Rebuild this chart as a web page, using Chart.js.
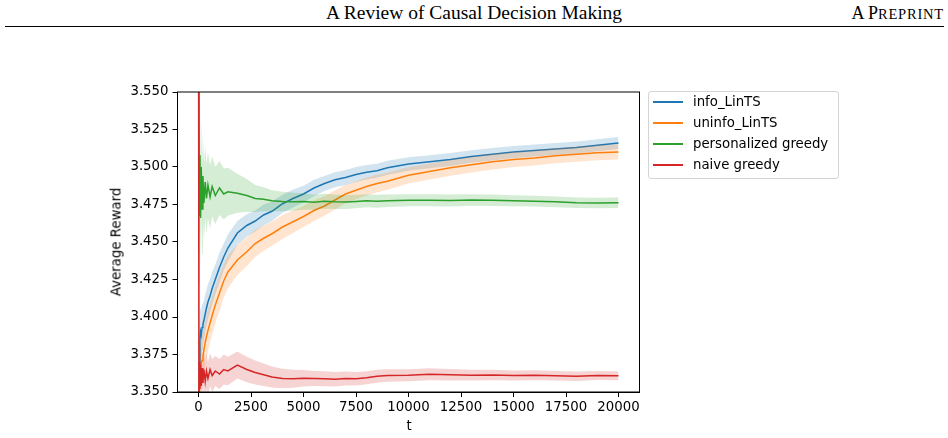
<!DOCTYPE html>
<html lang="en">
<head>
<meta charset="UTF-8">
<title>Average Reward</title>
<script src="https://cdn.jsdelivr.net/npm/chart.js"></script>
<style>
    body { margin: 0; width: 948px; height: 438px; position: relative; background: #fff; overflow: hidden; font-family: "DejaVu Sans", sans-serif; color: #000; }
    #grafico { position: absolute; left: 0; top: 0; }
    .titulo { position: absolute; left: 0; width: 948px; top: 3px; text-align: center; font-family: "Liberation Serif", serif; font-size: 19.5px; line-height: 20px; }
    .preprint { position: absolute; right: 4px; top: 3px; font-family: "Liberation Serif", serif; font-size: 18px; line-height: 20px; white-space: nowrap; }
    .preprint small { font-size: 14.5px; letter-spacing: 0.8px; }
    .linha { position: absolute; left: 5px; width: 939px; top: 26px; height: 1px; background: #000; }
    .legenda { position: absolute; left: 648px; top: 91px; width: 189px; height: 86px; border: 1px solid #d4d4d4; border-radius: 3px; background: rgba(255,255,255,0.8); }
    .item { position: absolute; left: 0; height: 20px; line-height: 20px; font-size: 13.3px; white-space: nowrap; }
    .item i { position: absolute; left: 4px; top: 9px; width: 30px; height: 2px; }
    .item span { position: absolute; left: 44px; top: 0; }
    .eixo-y { position: absolute; left: 116px; top: 242px; transform: translate(-50%, -50%) rotate(-90deg); font-size: 13.3px; white-space: nowrap; }
    .eixo-x { position: absolute; left: 409px; top: 425px; transform: translate(-50%, -50%); font-size: 13.3px; }
</style>
</head>
<body>
    <div class="titulo">A Review of Causal Decision Making</div>
    <div class="preprint">A P<small>REPRINT</small></div>
    <div class="linha"></div>

    <canvas id="grafico" width="948" height="438"></canvas>

    <div class="legenda">
        <div class="item" style="top:0px"><i style="background:#1f77b4"></i><span>info_LinTS</span></div>
        <div class="item" style="top:21px"><i style="background:#ff7f0e"></i><span>uninfo_LinTS</span></div>
        <div class="item" style="top:42px"><i style="background:#2ca02c"></i><span>personalized greedy</span></div>
        <div class="item" style="top:63px"><i style="background:#d62728"></i><span>naive greedy</span></div>
    </div>

    <div class="eixo-y">Average Reward</div>
    <div class="eixo-x">t</div>

<script>
    // passos de tempo
    const t = [0, 20, 40, 70, 100, 130, 170, 210, 260, 320, 380, 450, 550, 650, 800, 1000, 1200, 1400, 1850, 2300,
        2700, 3100, 3500, 4000, 4500, 5000, 5500, 6000, 6500, 7000, 7500, 8000, 8500, 9000, 10000, 11000, 12000, 13000,
        14000, 15000, 16000, 17000, 18000, 19000, 20000];

    const infoMedia = [3.30, 3.34, 3.37, 3.385, 3.39, 3.388, 3.393, 3.395, 3.398, 3.402, 3.406, 3.410, 3.414, 3.419, 3.425,
        3.433, 3.440, 3.446, 3.456, 3.461, 3.464, 3.468, 3.4705, 3.4755, 3.479, 3.482, 3.486, 3.489, 3.4915, 3.493, 3.495,
        3.4965, 3.4975, 3.4995, 3.502, 3.5035, 3.505, 3.507, 3.5085, 3.510, 3.511, 3.512, 3.513, 3.5145, 3.516];
    const infoDesvio = [0.03, 0.025, 0.02, 0.018, 0.017, 0.016, 0.015, 0.014, 0.013, 0.013, 0.012, 0.012, 0.011, 0.011, 0.010,
        0.010, 0.009, 0.009, 0.008, 0.0075, 0.007, 0.007, 0.0065, 0.006, 0.006, 0.0055, 0.0055, 0.005, 0.005, 0.005, 0.005,
        0.0048, 0.0047, 0.0046, 0.0045, 0.0044, 0.0043, 0.0042, 0.0041, 0.004, 0.004, 0.004, 0.004, 0.004, 0.004];

    const uninfoMedia = [3.30, 3.345, 3.362, 3.365, 3.366, 3.369, 3.371, 3.374, 3.378, 3.383, 3.387, 3.391, 3.396, 3.401, 3.408,
        3.416, 3.424, 3.430, 3.438, 3.4435, 3.449, 3.4525, 3.4555, 3.460, 3.4635, 3.467, 3.471, 3.474, 3.478, 3.482, 3.4845,
        3.487, 3.489, 3.4905, 3.4945, 3.497, 3.4995, 3.5015, 3.5035, 3.505, 3.506, 3.5075, 3.5085, 3.5095, 3.510];
    const uninfoDesvio = [0.03, 0.025, 0.022, 0.02, 0.019, 0.018, 0.017, 0.016, 0.015, 0.015, 0.014, 0.014, 0.013, 0.013, 0.012,
        0.012, 0.011, 0.011, 0.010, 0.0095, 0.009, 0.0085, 0.008, 0.008, 0.0075, 0.007, 0.007, 0.0065, 0.0065, 0.006, 0.006,
        0.006, 0.0058, 0.0056, 0.0055, 0.0054, 0.0053, 0.0052, 0.0051, 0.005, 0.005, 0.005, 0.005, 0.005, 0.005];

    const persMedia = [3.60, 3.53, 3.468, 3.508, 3.466, 3.50, 3.472, 3.494, 3.476, 3.490, 3.479, 3.488, 3.480, 3.487, 3.481,
        3.486, 3.482, 3.4835, 3.4825, 3.481, 3.479, 3.4785, 3.4775, 3.477, 3.4768, 3.477, 3.4765, 3.4772, 3.4768, 3.4766, 3.477,
        3.4775, 3.4772, 3.4775, 3.4778, 3.4778, 3.4776, 3.478, 3.4778, 3.4775, 3.4772, 3.4768, 3.4762, 3.476, 3.4762];
    const persDesvio = [0.08, 0.06, 0.045, 0.04, 0.035, 0.032, 0.03, 0.028, 0.026, 0.024, 0.023, 0.022, 0.021, 0.02, 0.019,
        0.018, 0.017, 0.016, 0.013, 0.011, 0.009, 0.008, 0.007, 0.0065, 0.006, 0.0055, 0.005, 0.005, 0.0048, 0.0046, 0.0045,
        0.0044, 0.0043, 0.0042, 0.004, 0.004, 0.004, 0.0039, 0.0038, 0.0037, 0.0036, 0.0036, 0.0035, 0.0035, 0.0035];

    const naiveMedia = [3.65, 3.345, 3.37, 3.352, 3.368, 3.354, 3.366, 3.356, 3.365, 3.357, 3.364, 3.359, 3.365, 3.361, 3.364,
        3.362, 3.365, 3.364, 3.368, 3.365, 3.363, 3.3615, 3.360, 3.359, 3.3588, 3.3592, 3.359, 3.3588, 3.3585, 3.359, 3.3588,
        3.3595, 3.3605, 3.361, 3.3612, 3.3618, 3.3615, 3.3612, 3.3614, 3.361, 3.3612, 3.3608, 3.3605, 3.361, 3.3608];
    const naiveDesvio = [0.02, 0.018, 0.016, 0.015, 0.014, 0.014, 0.013, 0.013, 0.012, 0.012, 0.012, 0.011, 0.011, 0.011, 0.010,
        0.010, 0.010, 0.0095, 0.009, 0.0085, 0.008, 0.0075, 0.007, 0.0065, 0.006, 0.0055, 0.005, 0.005, 0.0048, 0.0046, 0.0045,
        0.0044, 0.0043, 0.0042, 0.004, 0.004, 0.0038, 0.0036, 0.0035, 0.0034, 0.0033, 0.0032, 0.0031, 0.003, 0.003];

    const ticksX = [0, 2500, 5000, 7500, 10000, 12500, 15000, 17500, 20000];
    const ticksY = [3.350, 3.375, 3.400, 3.425, 3.450, 3.475, 3.500, 3.525, 3.550];

    const fonteTick = { family: 'DejaVu Sans', size: 13.3 };

    // faixa (sup + inf com fill) e a linha de cada serie
    function serie(nome, media, desvio, cor, corFaixa, ordem) {
        return [
            { label: nome + ' sup', data: t.map((x, i) => ({ x: x, y: media[i] + desvio[i] })),
              borderWidth: 0, pointRadius: 0, fill: false, order: ordem + 2 },
            { label: nome + ' inf', data: t.map((x, i) => ({ x: x, y: media[i] - desvio[i] })),
              borderWidth: 0, pointRadius: 0, fill: '-1', backgroundColor: corFaixa, order: ordem + 1 },
            { label: nome, data: t.map((x, i) => ({ x: x, y: media[i] })),
              borderColor: cor, borderWidth: 1.5, pointRadius: 0, fill: false, order: ordem }
        ];
    }

    const moldura = {
        id: 'moldura',
        afterDatasetsDraw(chart) {
            const a = chart.chartArea;
            const c = chart.ctx;
            c.save();
            c.strokeStyle = '#000';
            c.lineWidth = 1;
            c.strokeRect(a.left, a.top, a.right - a.left, a.bottom - a.top);
            c.restore();
        }
    };

    new Chart(document.getElementById('grafico'), {
        type: 'line',
        data: {
            datasets: [
                ...serie('info_LinTS', infoMedia, infoDesvio, '#1f77b4', 'rgba(31,119,180,0.2)', 10),
                ...serie('uninfo_LinTS', uninfoMedia, uninfoDesvio, '#ff7f0e', 'rgba(255,127,14,0.2)', 7),
                ...serie('personalized greedy', persMedia, persDesvio, '#2ca02c', 'rgba(44,160,44,0.2)', 4),
                ...serie('naive greedy', naiveMedia, naiveDesvio, '#d62728', 'rgba(214,39,40,0.2)', 1)
            ]
        },
        options: {
            responsive: false,
            animation: false,
            layout: { padding: { left: 0, right: 308.5, top: 92, bottom: 0 } },
            plugins: { legend: { display: false }, tooltip: { enabled: false } },
            elements: { line: { tension: 0 } },
            scales: {
                x: {
                    type: 'linear', min: -1000, max: 21000,
                    afterBuildTicks: s => { s.ticks = ticksX.map(v => ({ value: v })); },
                    afterFit: s => { s.height = 46; },
                    ticks: { callback: v => String(v), font: fonteTick, color: '#000', padding: 3, maxRotation: 0, autoSkip: false },
                    grid: { drawOnChartArea: false, drawTicks: true, tickLength: 5, color: '#000' },
                    border: { color: '#000', width: 1 }
                },
                y: {
                    min: 3.35, max: 3.55,
                    afterBuildTicks: s => { s.ticks = ticksY.map(v => ({ value: v })); },
                    afterFit: s => { s.width = 177.5; },
                    ticks: { callback: v => v.toFixed(3), font: fonteTick, color: '#000', padding: 4, autoSkip: false },
                    grid: { drawOnChartArea: false, drawTicks: true, tickLength: 5, color: '#000' },
                    border: { color: '#000', width: 1 }
                }
            }
        },
        plugins: [moldura]
    });
</script>
</body>
</html>
